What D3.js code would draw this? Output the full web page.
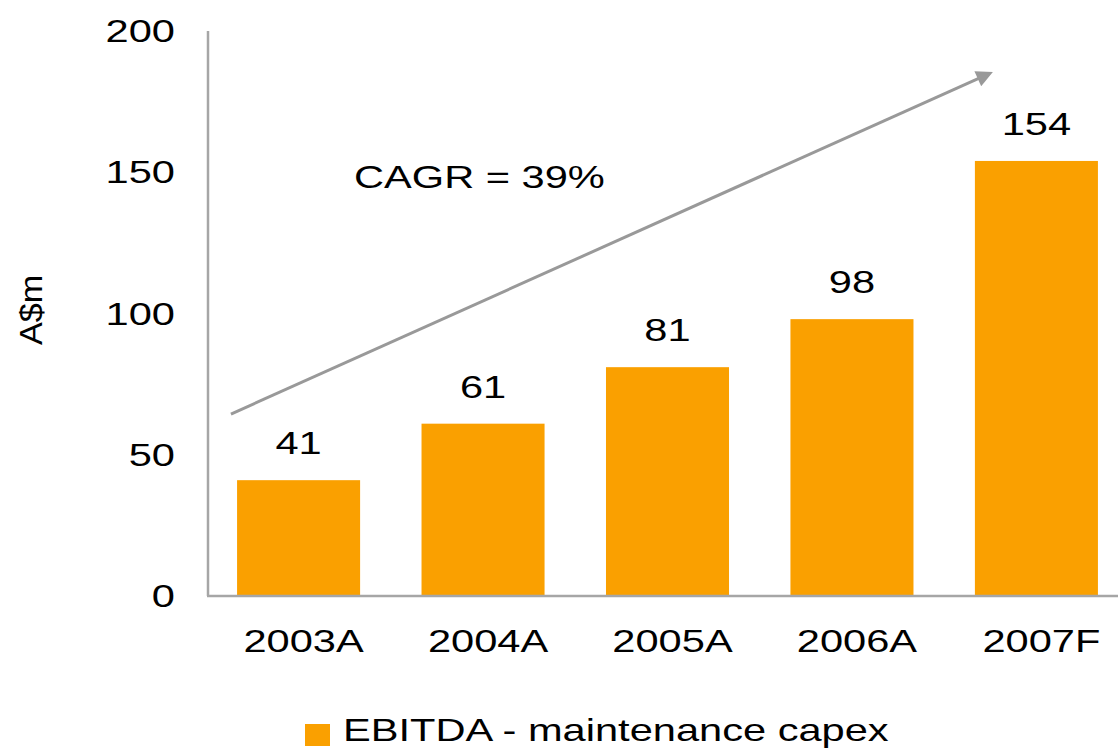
<!DOCTYPE html>
<html>
<head>
<meta charset="utf-8">
<script src="https://cdnjs.cloudflare.com/ajax/libs/d3/7.8.5/d3.min.js"></script>
<style>
  html, body { margin: 0; padding: 0; background: #fff; }
  text { font-family: "Liberation Sans", Arial, sans-serif; fill: #000; }
</style>
</head>
<body>
<div id="chart"></div>
<script>
// Chart data
const categories = ["2003A", "2004A", "2005A", "2006A", "2007F"];
const values = [41, 61, 81, 98, 154];
const yTicks = [0, 50, 100, 150, 200];
const seriesName = "EBITDA - maintenance capex";
const cagrLabel = "CAGR = 39%";
const yLabel = "A$m";

function createChart(containerId) {
    const width = 1118, height = 749;
    const barColor = "#FAA000";
    const axisColor = "#A6A6A6";
    const stretch = 1.3; // text in the original is drawn horizontally widened

    const svg = d3.select(`#${containerId}`)
        .append("svg")
        .attr("width", width)
        .attr("height", height);

    // Scales
    const x = d3.scaleBand()
        .domain(categories)
        .range([207, 1128])
        .paddingInner(0.333)
        .paddingOuter(0.163);

    const y = d3.scaleLinear()
        .domain([0, 200])
        .range([596, 31]);

    // Helper for widened text
    function label(parent, tx, ty, str, size, anchor) {
        parent.append("g")
            .attr("transform", `translate(${tx},${ty}) scale(${stretch},1)`)
            .append("text")
            .attr("text-anchor", anchor || "middle")
            .style("font-size", size + "px")
            .text(str);
    }

    // Bars
    svg.selectAll(".bar")
        .data(values)
        .enter()
        .append("rect")
        .attr("class", "bar")
        .attr("x", (d, i) => x(categories[i]))
        .attr("width", x.bandwidth())
        .attr("y", d => y(d))
        .attr("height", d => y(0) - y(d))
        .attr("fill", barColor);

    // Axes lines
    svg.append("line")
        .attr("x1", 208).attr("x2", 208)
        .attr("y1", y(200)).attr("y2", y(0))
        .attr("stroke", axisColor)
        .attr("stroke-width", 2.5);

    svg.append("line")
        .attr("x1", 207).attr("x2", width)
        .attr("y1", y(0)).attr("y2", y(0))
        .attr("stroke", axisColor)
        .attr("stroke-width", 2.5);

    // Y tick labels
    yTicks.forEach(t => label(svg, 175, y(t) + 11, t, 32, "end"));

    // X tick labels
    categories.forEach(c => label(svg, x(c) + x.bandwidth() / 2 + 5, 652, c, 32));

    // Value labels
    values.forEach((v, i) => label(svg, x(categories[i]) + x.bandwidth() / 2, y(v) - 26, v, 32));

    // Y axis title
    svg.append("g")
        .attr("transform", "translate(42,310) rotate(-90) scale(1.1,1)")
        .append("text")
        .attr("text-anchor", "middle")
        .style("font-size", "31px")
        .text(yLabel);

    // CAGR arrow (positioned in data space of the plot)
    const defs = svg.append("defs");
    defs.append("marker")
        .attr("id", "arrowhead")
        .attr("viewBox", "0 0 10 10")
        .attr("refX", 8)
        .attr("refY", 5)
        .attr("markerWidth", 6.5)
        .attr("markerHeight", 5.5)
        .attr("orient", "auto")
        .append("path")
        .attr("d", "M0,0 L10,5 L0,10 Z")
        .attr("fill", "#999");

    const arrowX = d3.scaleLinear().domain([0, 1]).range([x.range()[0], x.range()[1]]);
    svg.append("line")
        .attr("x1", arrowX(0.026))
        .attr("y1", y(64.4))
        .attr("x2", arrowX(0.85))
        .attr("y2", y(185))
        .attr("stroke", "#999")
        .attr("stroke-width", 3)
        .attr("marker-end", "url(#arrowhead)");

    label(svg, 354, 188, cagrLabel, 32, "start");

    // Legend
    svg.append("rect")
        .attr("x", 305)
        .attr("y", 724)
        .attr("width", 25)
        .attr("height", 22)
        .attr("fill", barColor);
    label(svg, 343, 741, seriesName, 32, "start");
}

createChart("chart");
</script>
</body>
</html>
